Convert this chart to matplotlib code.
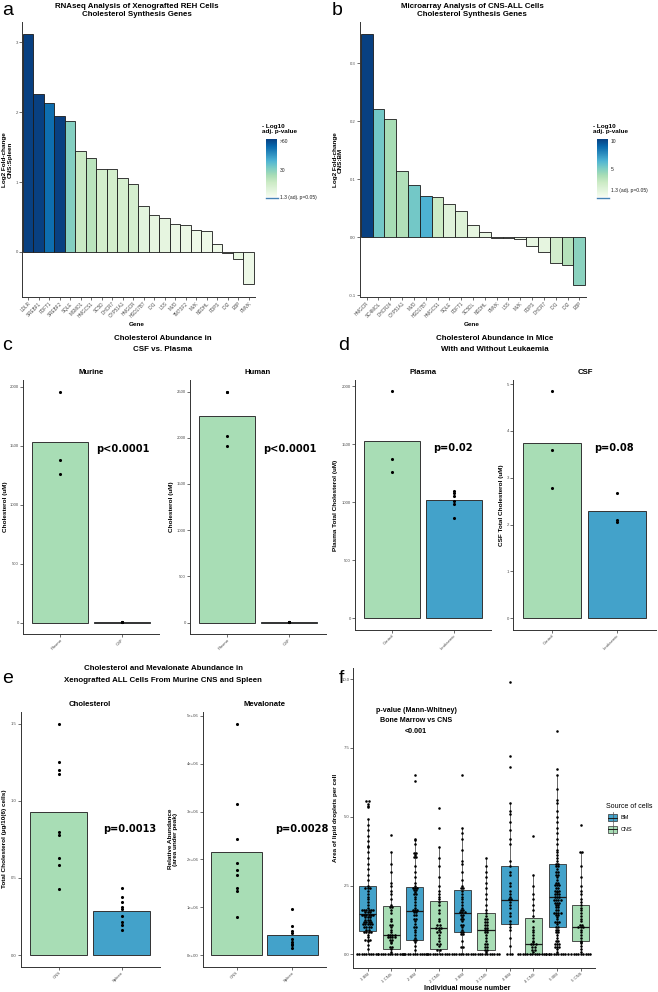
import numpy as np
import matplotlib
matplotlib.use('Agg')
import matplotlib.pyplot as plt
from matplotlib.colors import Normalize
from matplotlib.cm import ScalarMappable
from matplotlib.patches import Rectangle
from matplotlib.lines import Line2D

plt.rcParams['font.family'] = ['Liberation Sans', 'DejaVu Sans']

# ---------------- data ----------------
genes_a = ['LDLR', 'SREBF1', 'FDFT1', 'SREBF2', 'SQLE', 'MSMO1', 'HMGCS1', 'SC5D', 'DHCR7',
           'CYP51A1', 'HMGCR', 'HSD17B7', 'IDI1', 'LSS', 'MVD', 'TM7SF2', 'MVK', 'NSDHL',
           'FDPS', 'IDI2', 'EBP', 'PMVK']
lfc_a = [3.11, 2.26, 2.13, 1.94, 1.87, 1.44, 1.35, 1.19, 1.18, 1.06, 0.97, 0.65, 0.53, 0.48,
         0.40, 0.38, 0.32, 0.30, 0.11, -0.01, -0.10, -0.46]
nlp_a = [62, 62, 53, 62, 30, 17, 20.5, 14, 14, 13, 13, 8.3, 7.2, 7.2, 5.4, 5.4, 4.2, 4.2,
         4.2, 3.5, 6.0, 4.8]

genes_b = ['HMGCR', 'SC4MOL', 'DHCR24', 'CYP51A1', 'MVD', 'HSD17B7', 'HMGCS1', 'SQLE', 'FDFT1',
           'SC5DL', 'NSDHL', 'PMVK', 'LSS', 'MVK', 'FDPS', 'DHCR7', 'IDI1', 'IDI2', 'EBP']
lfc_b = [0.350, 0.221, 0.203, 0.113, 0.089, 0.071, 0.0695, 0.057, 0.045, 0.020, 0.008,
         -0.001, -0.001, -0.003, -0.016, -0.025, -0.044, -0.048, -0.082]
nlp_b = [10.4, 5.4, 3.9, 3.6, 5.4, 6.5, 2.6, 1.4, 1.5, 1.0, 0.8, 0.6, 0.6, 0.6, 0.9, 1.0,
         2.2, 3.4, 4.7]

# panel c
c_murine_plasma = [1957, 1376, 1263]
c_murine_csf = [4.85, 3.59, 2.78]
c_human_plasma = [2497, 2497, 2017, 1916]
c_human_csf = [4.5, 3.8, 3.2, 4.0]

# panel d
d_plasma_control = [1957, 1376, 1263]
d_plasma_leuk = [1100, 1080, 1050, 1010, 985, 865]
d_csf_control = [4.85, 3.59, 2.78]
d_csf_leuk = [2.68, 2.10, 2.06]

# panel e
e_chol_cns = [1.501, 1.25, 1.203, 1.173, 0.795, 0.78, 0.631, 0.585, 0.43]
e_chol_spleen = [0.436, 0.378, 0.346, 0.313, 0.296, 0.255, 0.214, 0.197, 0.162]
e_mev_cns = [4.84e6, 3.15e6, 2.42e6, 1.92e6, 1.77e6, 1.67e6, 1.41e6, 1.34e6, 0.79e6]
e_mev_spleen = [0.956e6, 0.614e6, 0.495e6, 0.46e6, 0.33e6, 0.265e6, 0.24e6, 0.2e6, 0.155e6]

# panel f
f_groups = ['1 BM', '1 CNS', '2 BM', '2 CNS', '3 BM', '3 CNS', '4 BM', '4 CNS', '5 BM', '5 CNS']
f_source = ['BM', 'CNS', 'BM', 'CNS', 'BM', 'CNS', 'BM', 'CNS', 'BM', 'CNS']
f_q1 = [0.84, 0.21, 0.53, 0.21, 0.81, 0.17, 1.12, 0.0, 1.0, 0.47]
f_med = [1.46, 0.69, 1.58, 0.96, 1.5, 0.9, 1.99, 0.38, 2.09, 1.0]
f_q3 = [2.49, 1.77, 2.45, 1.94, 2.35, 1.49, 3.2, 1.33, 3.27, 1.81]
f_whislo = [0.0, 0.0, 0.0, 0.0, 0.0, 0.0, 0.0, 0.0, 0.0, 0.0]
f_whishi = [4.9, 3.7, 4.2, 3.9, 4.6, 3.5, 5.5, 2.9, 6.5, 3.7]

f_1bm = [0, 0, 0, 0, 0, 0, 0, 0, 0, 0, 0.18, 0.35, 0.48, 0.5, 0.52, 0.55, 0.62, 0.7, 0.78,
         0.82, 0.85, 0.85, 0.88, 0.92, 0.95, 1.0, 1.0, 1.02, 1.05, 1.08, 1.1, 1.12, 1.15, 1.18,
         1.2, 1.22, 1.25, 1.3, 1.32, 1.35, 1.38, 1.4, 1.42, 1.45, 1.48, 1.5, 1.52, 1.55, 1.58,
         1.6, 1.62, 1.65, 1.1, 1.15, 1.4, 1.45, 1.6, 1.62,
         1.7, 1.8, 1.9, 2.0, 2.1, 2.2, 2.3, 2.4, 2.42, 2.45, 2.5, 2.7, 2.9,
         3.1, 3.3, 3.5, 3.7, 3.9, 3.92, 4.1, 4.3, 4.5, 4.7, 4.9, 5.35, 5.4, 5.45, 5.55, 5.6]
f_1cns = [0, 0, 0, 0, 0, 0, 0, 0, 0, 0, 0, 0, 0.1, 0.2, 0.25, 0.3, 0.4, 0.45, 0.5, 0.55,
          0.6, 0.6, 0.62, 0.65, 0.68, 0.7, 0.72, 0.75, 0.8, 0.9, 1.0, 1.05, 1.1, 1.2, 1.3,
          1.5, 1.6, 1.7, 1.75, 1.8, 2.0, 2.2, 2.3, 2.5, 2.6, 3.0, 3.3, 3.7, 4.35]
f_2bm = [0, 0, 0, 0, 0, 0, 0, 0, 0, 0, 0, 0.15, 0.3, 0.45, 0.5, 0.55, 0.6, 0.7, 0.8, 0.9,
         1.0, 1.0, 1.1, 1.2, 1.25, 1.3, 1.4, 1.45, 1.5, 1.55, 1.6, 1.6, 1.65, 1.7, 1.8, 1.9,
         2.0, 2.1, 2.2, 2.2, 2.25, 2.3, 2.35, 2.4, 2.4, 2.45, 2.5, 2.6, 2.8, 3.0, 3.2, 3.5,
         3.55, 3.6, 3.65, 3.7, 4.0, 4.15, 4.2, 6.3, 6.5]
f_2cns = [0, 0, 0, 0, 0, 0, 0, 0, 0, 0, 0, 0, 0.15, 0.2, 0.3, 0.35, 0.4, 0.5, 0.6, 0.7,
          0.8, 0.85, 0.9, 0.95, 0.95, 1.0, 1.05, 1.1, 1.2, 1.3, 1.5, 1.6, 1.8, 1.9, 2.0,
          2.1, 2.2, 2.3, 2.5, 2.8, 3.2, 3.5, 3.9, 4.6, 5.3]
f_3bm = [0, 0, 0, 0, 0, 0, 0, 0, 0.25, 0.3, 0.5, 0.7, 0.75, 0.8, 0.85, 0.9, 1.0, 1.05, 1.1,
         1.2, 1.25, 1.3, 1.35, 1.4, 1.45, 1.5, 1.52, 1.55, 1.6, 1.65, 1.7, 1.8, 1.9, 2.0,
         2.1, 2.2, 2.3, 2.4, 2.45, 2.5, 2.7, 3.0, 3.3, 3.4, 3.8, 4.2, 4.4, 4.6, 6.5]
f_3cns = [0, 0, 0, 0, 0, 0, 0, 0, 0, 0, 0, 0, 0.1, 0.15, 0.2, 0.25, 0.3, 0.35, 0.4, 0.5,
          0.6, 0.7, 0.8, 0.85, 0.9, 0.9, 0.95, 1.0, 1.05, 1.1, 1.15, 1.2, 1.25, 1.3, 1.4,
          1.5, 1.6, 1.8, 2.0, 2.2, 2.4, 2.6, 2.8, 3.0, 3.2, 3.5]
f_4bm = [0, 0, 0, 0.3, 0.6, 0.9, 1.0, 1.1, 1.2, 1.4, 1.5, 1.7, 1.8, 1.9, 2.0, 2.0, 2.1,
         2.2, 2.3, 2.5, 2.6, 2.9, 3.0, 3.2, 3.4, 4.0, 4.2, 4.5, 4.8, 5.1, 5.2, 5.5, 6.8,
         7.2, 9.9]
f_4cns = [0, 0, 0, 0, 0, 0, 0, 0, 0, 0, 0, 0, 0, 0, 0.1, 0.15, 0.2, 0.25, 0.3, 0.35,
          0.38, 0.4, 0.45, 0.5, 0.6, 0.7, 0.8, 0.9, 1.0, 1.2, 1.4, 1.6, 1.8, 2.0, 2.2, 2.5,
          2.9, 4.3]
f_5bm = [0, 0, 0, 0, 0, 0, 0, 0, 0, 0, 0.1, 0.2, 0.25, 0.3, 0.3, 0.35, 0.4, 0.5, 0.6, 0.7,
         0.8, 0.85, 0.9, 1.0, 1.0, 1.1, 1.15, 1.2, 1.3, 1.35, 1.4, 1.45, 1.5, 1.5, 1.55, 1.6,
         1.65, 1.7, 1.75, 1.8, 1.85, 1.9, 1.95, 2.0, 2.0, 2.05, 2.1, 2.1, 2.15, 2.2, 2.25,
         2.3, 2.35, 2.4, 2.45, 2.5, 2.55, 2.6, 2.7, 2.8, 2.9, 3.0, 3.1, 3.2, 3.25, 3.3, 3.4,
         0.35, 0.5, 0.9, 1.2, 1.5, 1.8, 1.9, 2.0, 2.2, 2.3, 2.5, 2.6, 2.9, 3.0, 3.3,
         3.5, 3.6, 3.7, 3.8, 4.0, 4.2, 4.4, 4.6, 4.8, 5.0, 5.2, 5.5, 5.6, 6.0, 6.5, 6.75, 8.1]
f_5cns = [0, 0, 0, 0, 0, 0, 0, 0, 0, 0.1, 0.2, 0.3, 0.4, 0.45, 0.5, 0.6, 0.7, 0.8, 0.9,
          0.95, 1.0, 1.0, 1.05, 1.1, 1.2, 1.3, 1.4, 1.5, 1.6, 1.7, 1.8, 1.9, 2.0, 2.2, 2.3,
          2.5, 2.8, 3.2, 3.7, 3.7, 4.7]
f_values = [f_1bm, f_1cns, f_2bm, f_2cns, f_3bm, f_3cns, f_4bm, f_4cns, f_5bm, f_5cns]

GREEN = '#a8ddb5'
BLUE = '#43a2ca'
src_color = {'BM': BLUE, 'CNS': GREEN}

# ---------------- figure helpers ----------------
W, H = 658, 992
fig = plt.figure(figsize=(W / 100, H / 100), dpi=100)


def add_ax(x0, y0, x1, y1):
    return fig.add_axes([x0 / W, 1 - y1 / H, (x1 - x0) / W, (y1 - y0) / H])


def ftext(x, y, s, **kw):
    return fig.text(x / W, 1 - y / H, s, **kw)


def style(ax):
    for s in ['top', 'right']:
        ax.spines[s].set_visible(False)
    for s in ['left', 'bottom']:
        ax.spines[s].set_color('#333333')
        ax.spines[s].set_linewidth(0.7)
    ax.tick_params(axis='both', length=2, width=0.5, color='#333333', labelsize=3.1,
                   labelcolor='#4d4d4d', pad=1)
    ax.set_facecolor('none')


cmap = plt.get_cmap('GnBu')


def colorbar(x0, y0, x1, y1, vmin, vmax, ticks, labels):
    cax = add_ax(x0, y0, x1, y1)
    cb = fig.colorbar(ScalarMappable(norm=Normalize(vmin, vmax), cmap=cmap), cax=cax)
    cb.outline.set_visible(False)
    cb.set_ticks(ticks)
    cb.set_ticklabels(labels)
    cax.tick_params(length=0, labelsize=3.6, labelcolor='#222222', pad=2)
    fig.add_artist(Line2D([x0 / W, (x1 + 1) / W], [1 - (y1 + 0.5) / H, 1 - (y1 + 0.5) / H],
                          color='#4682b4', lw=1.0))


# ---------------- panel a ----------------
norm_a = Normalize(1.3, 62)
ax = add_ax(22, 22, 255, 297)
style(ax)
ax.bar(range(len(genes_a)), lfc_a, width=1.0, color=cmap(norm_a(nlp_a)),
       edgecolor='#1a1a1a', linewidth=0.6)
ax.set_xlim(-0.57, 21.6)
ax.set_ylim(-0.643, 3.286)
ax.set_yticks([0, 1, 2, 3])
ax.set_xticks(range(len(genes_a)))
ax.set_xticklabels(genes_a, rotation=45, ha='right', rotation_mode='anchor', fontsize=3.3)
ftext(137, 6, 'RNAseq Analysis of Xenografted REH Cells', ha='center', va='center',
      fontsize=5.7, fontweight='bold')
ftext(137, 15, 'Cholesterol Synthesis Genes', ha='center', va='center', fontsize=5.7,
      fontweight='bold')
ftext(7.5, 160, 'Log2 Fold-change\nCNS:Spleen', rotation=90, ha='center', va='center',
      fontsize=4.6, fontweight='bold', linespacing=1.0)
ftext(137, 325, 'Gene', ha='center', va='center', fontsize=4.6, fontweight='bold')
ftext(262, 129, '- Log10\nadj. p-value', ha='left', va='center', fontsize=4.6,
      fontweight='bold', linespacing=1.0)
colorbar(266, 139, 277, 197, 1.3, 62, [60, 30, 1.3], ['>60', '30', '1.3 (adj. p=0.05)'])
ftext(2, 15, 'a', fontsize=14, ha='left', va='baseline')

# ---------------- panel b ----------------
norm_b = Normalize(0.0, 10.36)
ax = add_ax(360, 22, 586, 297)
style(ax)
ax.bar(range(len(genes_b)), lfc_b, width=1.0, color=cmap(norm_b(nlp_b)),
       edgecolor='#1a1a1a', linewidth=0.6)
ax.set_xlim(-0.56, 18.56)
ax.set_ylim(-0.1034, 0.3707)
ax.set_yticks([-0.1, 0.0, 0.1, 0.2, 0.3])
ax.set_yticklabels(['-0.1', '0.0', '0.1', '0.2', '0.3'])
ax.set_xticks(range(len(genes_b)))
ax.set_xticklabels(genes_b, rotation=45, ha='right', rotation_mode='anchor', fontsize=3.3)
ftext(472, 6, 'Microarray Analysis of CNS-ALL Cells', ha='center', va='center',
      fontsize=5.7, fontweight='bold')
ftext(472, 15, 'Cholesterol Synthesis Genes', ha='center', va='center', fontsize=5.7,
      fontweight='bold')
ftext(338, 160, 'Log2 Fold-change\nCNS:BM', rotation=90, ha='center', va='center',
      fontsize=4.6, fontweight='bold', linespacing=1.0)
ftext(472, 325, 'Gene', ha='center', va='center', fontsize=4.6, fontweight='bold')
ftext(593, 129, '- Log10\nadj. p-value', ha='left', va='center', fontsize=4.6,
      fontweight='bold', linespacing=1.0)
colorbar(597, 139, 608, 197, 0.0, 10.36, [10, 5, 1.3], ['10', '5', '1.3 (adj. p=0.05)'])
ftext(332, 15, 'b', fontsize=14, ha='left', va='baseline')


# ---------------- bar + dot panels ----------------
def bar_dot(rect, groups, data, colors, ylim, yticks, ylabels=None):
    ax = add_ax(*rect)
    style(ax)
    means = [np.mean(d) for d in data]
    ax.bar([1, 2], means, width=0.9, color=colors, edgecolor='#333333', linewidth=0.7,
           zorder=1)
    for i, d in enumerate(data):
        ax.scatter(np.full(len(d), i + 1), d, s=5, color='black', lw=0, zorder=3)
    ax.set_xlim(0.4, 2.6)
    ax.set_ylim(*ylim)
    ax.set_yticks(yticks)
    if ylabels is not None:
        ax.set_yticklabels(ylabels)
    ax.set_xticks([1, 2])
    ax.set_xticklabels(groups, rotation=45, ha='right', rotation_mode='anchor')
    return ax


PFONT = dict(fontsize=7.1, fontweight='bold', family='DejaVu Sans', ha='center', va='center')
SUB = dict(fontsize=5.6, fontweight='bold', ha='center', va='center')
YL = dict(fontsize=4.6, fontweight='bold', ha='center', va='center', rotation=90,
          linespacing=1.0)

# panel c
ftext(163, 338, 'Cholesterol Abundance in', ha='center', va='center', fontsize=5.7,
      fontweight='bold')
ftext(163, 349.5, 'CSF vs. Plasma', ha='center', va='center', fontsize=5.7,
      fontweight='bold')
ftext(2, 350, 'c', fontsize=14, ha='left', va='baseline')
bar_dot((23, 380, 159, 634), ['Plasma', 'CSF'], [c_murine_plasma, c_murine_csf],
        [GREEN, BLUE], (-96, 2057), [0, 500, 1000, 1500, 2000])
ftext(91, 372.5, 'Murine', **SUB)
ftext(123, 449, 'p<0.0001', **PFONT)
ftext(5.5, 507, 'Cholesterol (uM)', **YL)
bar_dot((190, 380, 326, 634), ['Plasma', 'CSF'], [c_human_plasma, c_human_csf],
        [GREEN, BLUE], (-124, 2625), [0, 500, 1000, 1500, 2000, 2500])
ftext(258, 372.5, 'Human', **SUB)
ftext(290, 449, 'p<0.0001', **PFONT)
ftext(171, 507, 'Cholesterol (uM)', **YL)

# panel d
ftext(495, 338, 'Cholesterol Abundance in Mice', ha='center', va='center', fontsize=5.7,
      fontweight='bold')
ftext(495, 349.5, 'With and Without Leukaemia', ha='center', va='center', fontsize=5.7,
      fontweight='bold')
ftext(338, 350, 'd', fontsize=14, ha='left', va='baseline')
bar_dot((355, 380, 491, 629.5), ['Control', 'Leukaemic'], [d_plasma_control, d_plasma_leuk],
        [GREEN, BLUE], (-99, 2055), [0, 500, 1000, 1500, 2000])
ftext(423, 372.5, 'Plasma', **SUB)
ftext(453, 448, 'p=0.02', **PFONT)
ftext(335.5, 505, 'Plasma Total Cholesterol (uM)', **YL)
bar_dot((513, 380, 656, 629.5), ['Control', 'Leukaemic'], [d_csf_control, d_csf_leuk],
        [GREEN, BLUE], (-0.2425, 5.09), [0, 1, 2, 3, 4, 5])
ftext(585, 372.5, 'CSF', **SUB)
ftext(614, 448, 'p=0.08', **PFONT)
ftext(501, 505, 'CSF Total Cholesterol (uM)', **YL)

# panel e
ftext(163, 669, 'Cholesterol and Mevalonate Abundance in', ha='center', va='center',
      fontsize=5.7, fontweight='bold')
ftext(163, 680.5, 'Xenografted ALL Cells From Murine CNS and Spleen', ha='center',
      va='center', fontsize=5.7, fontweight='bold')
ftext(2, 683, 'e', fontsize=14, ha='left', va='baseline')
bar_dot((21, 712, 159.5, 966.6), ['CNS', 'Spleen'], [e_chol_cns, e_chol_spleen],
        [GREEN, BLUE], (-0.075, 1.576), [0.0, 0.5, 1.0, 1.5], ['0.0', '0.5', '1.0', '1.5'])
ftext(90, 704, 'Cholesterol', **SUB)
ftext(130, 829, 'p=0.0013', **PFONT)
ftext(5, 839, 'Total Cholesterol (\u00b5g/10(6) cells)', **YL)
bar_dot((203, 712, 326, 966.6), ['CNS', 'Spleen'], [e_mev_cns, e_mev_spleen],
        [GREEN, BLUE], (-0.242e6, 5.082e6), [0, 1e6, 2e6, 3e6, 4e6, 5e6],
        ['0e+00', '1e+06', '2e+06', '3e+06', '4e+06', '5e+06'])
ftext(264.5, 704, 'Mevalonate', **SUB)
ftext(301.7, 829, 'p=0.0028', **PFONT)
ftext(173, 839, 'Relative Abundance\n(area under peak)', **YL)

# ---------------- panel f ----------------
ax = add_ax(353.3, 668, 595, 968)
style(ax)
pos = np.arange(1, len(f_groups) + 1)
stats = []
for i in range(len(f_groups)):
    stats.append(dict(q1=f_q1[i], med=f_med[i], q3=f_q3[i], whislo=f_whislo[i],
                      whishi=f_whishi[i], fliers=[]))
bp = ax.bxp(stats, positions=pos, widths=0.72, patch_artist=True, showfliers=False,
            boxprops=dict(edgecolor='#333333', linewidth=0.6),
            medianprops=dict(color='#1a1a1a', linewidth=0.9),
            whiskerprops=dict(color='#666666', linewidth=0.7),
            capprops=dict(linewidth=0))
for patch, s in zip(bp['boxes'], f_source):
    patch.set_facecolor(src_color[s])

binw = 0.09
dx = 0.1
for i, vals in enumerate(f_values):
    v = np.asarray(vals, dtype=float)
    bins = np.round(v / binw).astype(int)
    xs, ys = [], []
    for b in np.unique(bins):
        members = v[bins == b]
        k = len(members)
        offs = (np.arange(k) - (k - 1) / 2) * dx
        xs.extend(pos[i] + offs)
        ys.extend([members.mean()] * k)
    ax.scatter(xs, ys, s=3.4, color='black', lw=0, zorder=4)

ax.set_xlim(0.4, 10.6)
ax.set_ylim(-0.495, 10.4)
ax.set_yticks([0, 2.5, 5.0, 7.5, 10.0])
ax.set_yticklabels(['0.0', '2.5', '5.0', '7.5', '10.0'])
ax.set_xticks(pos)
ax.set_xticklabels(f_groups, rotation=40, ha='right', rotation_mode='anchor')
ftext(416, 710, 'p-value (Mann-Whitney)', ha='center', va='center', fontsize=5.1,
      fontweight='bold')
ftext(416, 720.7, 'Bone Marrow vs CNS', ha='center', va='center', fontsize=5.1,
      fontweight='bold')
ftext(416, 731.7, '<0.001', ha='center', va='center', fontsize=5.1, fontweight='bold')
ftext(335.5, 818, 'Area of lipid droplets per cell', **YL)
ftext(467, 989, 'Individual mouse number', ha='center', va='center', fontsize=5.1,
      fontweight='bold')
ftext(339, 683, 'f', fontsize=14, ha='left', va='baseline')

# legend f
ftext(606.5, 806, 'Source of cells', ha='left', va='center', fontsize=5)
for src, yc in [('BM', 817.7), ('CNS', 829.3)]:
    x0, x1 = 608, 617
    fig.add_artist(Line2D([(x0 + x1) / 2 / W] * 2, [1 - (yc - 5.5) / H, 1 - (yc + 5.5) / H],
                          color='#555555', lw=0.5))
    fig.add_artist(Rectangle((x0 / W, 1 - (yc + 3.5) / H), (x1 - x0) / W, 7 / H,
                             transform=fig.transFigure, facecolor=src_color[src],
                             edgecolor='#333333', lw=0.5))
    fig.add_artist(Line2D([x0 / W, x1 / W], [1 - yc / H] * 2, color='#1a1a1a', lw=0.7))
    ftext(620.5, yc, src, ha='left', va='center', fontsize=4)

fig.savefig('out.png', dpi=100)
